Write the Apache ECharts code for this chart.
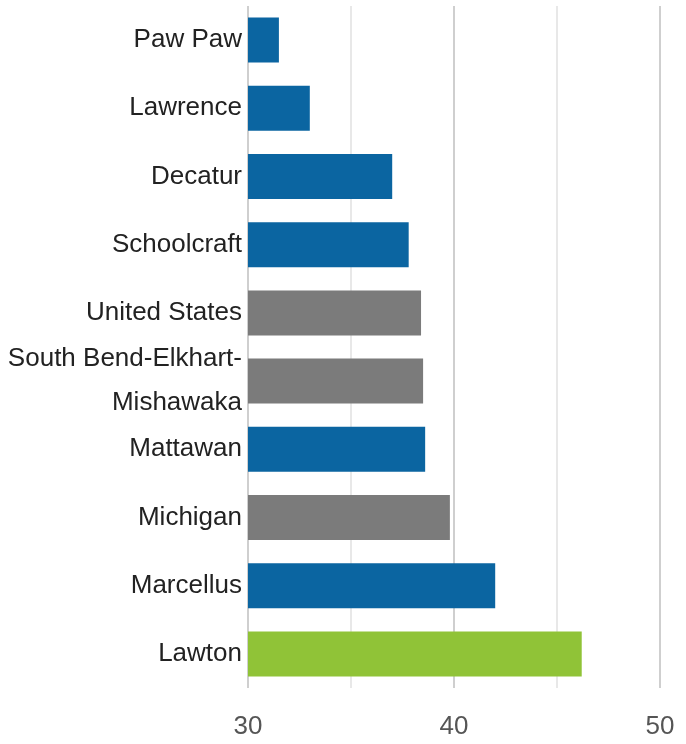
<!DOCTYPE html>
<html>
<head>
    <meta charset="utf-8">
    <title>chart</title>
    <style>
        html, body { margin: 0; padding: 0; background: #fff; }
        #charts { width: 686px; height: 744px; }
    </style>
</head>
<body>
<div id="charts"></div>
<script src="https://cdn.jsdelivr.net/npm/echarts@6/dist/echarts.min.js"></script>
<script>
// data, top to bottom
var places = ['Paw Paw', 'Lawrence', 'Decatur', 'Schoolcraft', 'United States',
              'South Bend-Elkhart-\nMishawaka', 'Mattawan', 'Michigan', 'Marcellus', 'Lawton'];
var values = [31.5, 33.0, 37.0, 37.8, 38.4, 38.5, 38.6, 39.8, 42.0, 46.2];
var kinds  = ['local', 'local', 'local', 'local', 'ref', 'ref', 'local', 'ref', 'local', 'focus'];
var xTicks = [30, 40, 50];

var colors = { local: '#0b65a1', ref: '#7b7b7b', focus: '#90c337' };
var font = '"Liberation Sans", Arial, sans-serif';

var myChart = echarts.init(document.getElementById('charts'));

var option = {
    animation: false,
    grid: {
        left: 248,
        right: 26,
        top: 6,
        bottom: 56,
        containLabel: false,
        outerBoundsMode: 'none'
    },
    xAxis: {
        type: 'value',
        min: 30,
        max: 50,
        interval: 5,
        axisLine: { show: false },
        axisTick: { show: false },
        splitLine: {
            show: true,
            lineStyle: { color: ['#cfcfcf', '#e8e8e8'], width: 2 }   // 10s darker, 5s lighter
        },
        axisLabel: {
            margin: 26,
            fontFamily: font,
            fontSize: 26,
            color: '#555',
            formatter: function (v) { return xTicks.indexOf(v) >= 0 ? v : ''; }
        }
    },
    yAxis: {
        type: 'category',
        inverse: true,
        data: places,
        axisLine: { show: false },
        axisTick: { show: false },
        axisLabel: {
            margin: 6,
            fontFamily: font,
            fontSize: 26,
            lineHeight: 44,
            color: '#222'
        }
    },
    series: [
        {
            type: 'bar',
            barCategoryGap: '34%',
            data: values.map(function (v, i) {
                return { value: v, itemStyle: { color: colors[kinds[i]] } };
            })
        }
    ]
};

myChart.setOption(option);
</script>
</body>
</html>
